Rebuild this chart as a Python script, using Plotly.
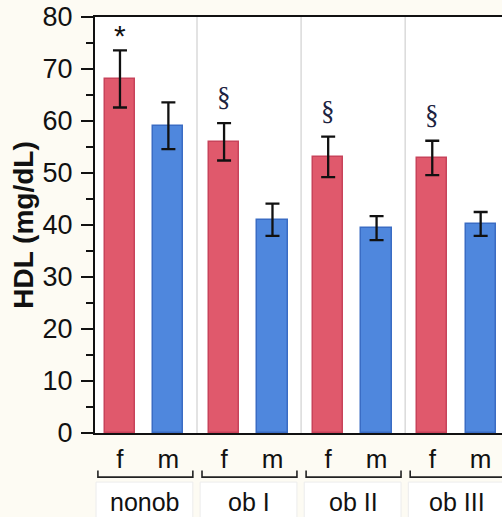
import plotly.graph_objects as go

groups = ["nonob", "ob I", "ob II", "ob III"]
sexes = ["f", "m"]
hdl_f = [68.1, 56.0, 53.1, 52.9]
hdl_m = [59.1, 41.0, 39.4, 40.2]
err_f = [5.5, 3.6, 3.9, 3.3]
err_m = [4.5, 3.1, 2.3, 2.3]
sig_f = ["*", "§", "§", "§"]

OFF_F, OFF_M, BW = -0.24, 0.225, 0.29
gx = list(range(len(groups)))
xf = [g + OFF_F for g in gx]
xm = [g + OFF_M for g in gx]

RED, RED_L = "#e0596c", "#c8435a"
BLUE, BLUE_L = "#4f87dd", "#3a6cc4"
FONT = "Liberation Sans"

fig = go.Figure()
fig.add_bar(x=xf, y=hdl_f, width=BW, name="f",
            marker=dict(color=RED, line=dict(color=RED_L, width=1.5)),
            error_y=dict(type="data", array=err_f, color="#111", thickness=2.3, width=7))
fig.add_bar(x=xm, y=hdl_m, width=BW, name="m",
            marker=dict(color=BLUE, line=dict(color=BLUE_L, width=1.5)),
            error_y=dict(type="data", array=err_m, color="#111", thickness=2.3, width=7))

shapes = []
for g in gx[:-1]:
    shapes.append(dict(type="line", xref="x", yref="paper", x0=g + 0.5, x1=g + 0.5,
                       y0=0, y1=1, line=dict(color="#dadada", width=1.5), layer="below"))
annotations = []
for g, name in zip(gx, groups):
    shapes.append(dict(type="rect", xref="x", yref="paper", x0=g - 0.47, x1=g + 0.46,
                       y0=-0.118, y1=-0.25, fillcolor="white",
                       line=dict(color="#ececec", width=1), layer="below"))
    shapes.append(dict(type="path", xref="x", yref="paper",
                       path=f"M {g-0.452},-0.090 L {g-0.452},-0.106 L {g+0.46},-0.106 L {g+0.46},-0.090",
                       line=dict(color="#222", width=1.6)))
    annotations.append(dict(x=g, y=-0.167, xref="x", yref="paper", text=name,
                            showarrow=False, yanchor="middle",
                            font=dict(family=FONT, size=25, color="#111")))

for x, y, e, s in zip(xf, hdl_f, err_f, sig_f):
    if s == "*":
        annotations.append(dict(x=x, y=y + e, xref="x", yref="y", text=s, showarrow=False,
                                yanchor="bottom", yshift=-4,
                                font=dict(family=FONT, size=30, color="#111")))
    else:
        annotations.append(dict(x=x, y=y + e, xref="x", yref="y", text=s, showarrow=False,
                                yanchor="bottom", yshift=9,
                                font=dict(family="Liberation Serif", size=27, color="#1b2240")))

fig.update_layout(
    width=502, height=517,
    margin=dict(l=95, r=0, t=17, b=84),
    paper_bgcolor="#fdfbf3", plot_bgcolor="white",
    showlegend=False, bargap=0,
    shapes=shapes, annotations=annotations,
    font=dict(family=FONT, color="#111"),
)
fig.update_xaxes(range=[-0.48, 3.43], tickvals=xf + xm, ticktext=["f"] * 4 + ["m"] * 4,
                 showgrid=False, zeroline=False, showline=True, linecolor="#111",
                 linewidth=2, mirror=True, ticks="", tickfont=dict(size=26, family=FONT),
                 ticklabelstandoff=2)
fig.update_yaxes(range=[0, 80], dtick=10, showgrid=False, zeroline=False,
                 showline=True, linecolor="#111", linewidth=2,
                 ticks="outside", ticklen=12, tickwidth=2, tickcolor="#111",
                 minor=dict(dtick=5, ticks="outside", ticklen=7, tickwidth=2, tickcolor="#111"),
                 tickfont=dict(size=27, family=FONT), ticklabelstandoff=3,
                 title=dict(text="<b>HDL (mg/dL)</b>", font=dict(size=28, family=FONT), standoff=1))

fig.write_html("out.html")
